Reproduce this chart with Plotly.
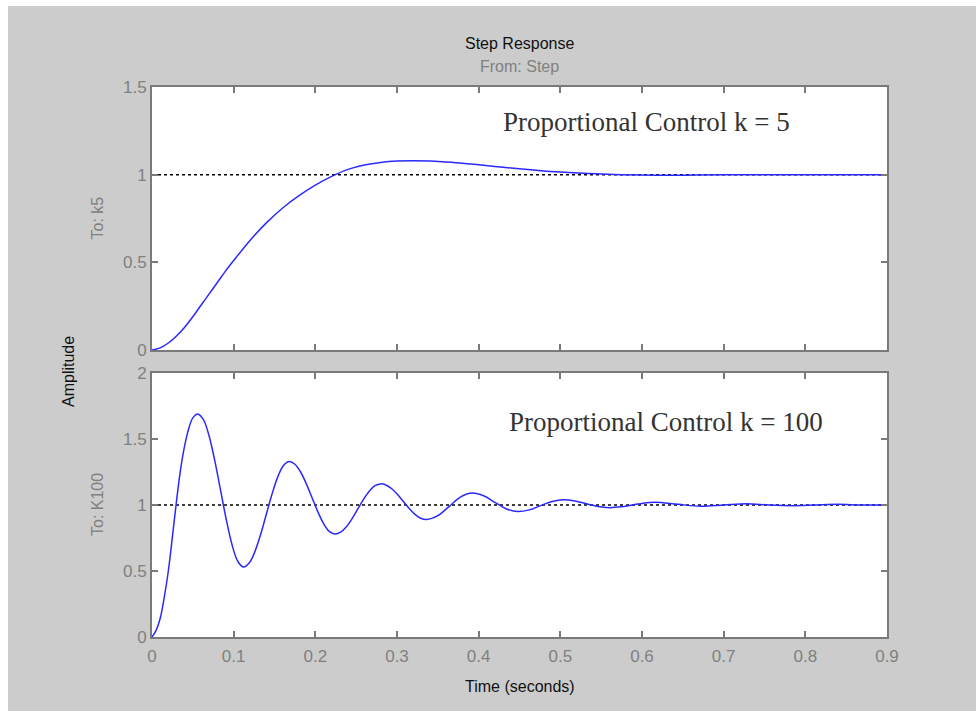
import plotly.graph_objects as go
from plotly.subplots import make_subplots

# ---- data ----
t_k5 = [0, 0.01, 0.02, 0.03, 0.04, 0.05, 0.06, 0.07, 0.08, 0.09, 0.10, 0.12, 0.14, 0.16,
        0.18, 0.20, 0.22, 0.24, 0.26, 0.28, 0.30, 0.32, 0.34, 0.36, 0.38, 0.40, 0.43,
        0.46, 0.50, 0.55, 0.60, 0.65, 0.70, 0.80, 0.90]
y_k5 = [0, 0.012, 0.04, 0.08, 0.13, 0.19, 0.255, 0.32, 0.385, 0.45, 0.51, 0.625, 0.725, 0.81,
        0.88, 0.94, 0.99, 1.03, 1.055, 1.07, 1.078, 1.08, 1.078, 1.072, 1.065, 1.056, 1.042,
        1.03, 1.015, 1.004, 0.998, 0.997, 1.0, 1.0, 1.0]

t_k100 = [0, 0.005, 0.01, 0.015, 0.02, 0.025, 0.03, 0.035, 0.04, 0.045, 0.05,
          0.056, 0.063, 0.070, 0.077, 0.084, 0.091, 0.098, 0.105, 0.112,
          0.119, 0.126, 0.133, 0.140, 0.147, 0.154, 0.161, 0.168,
          0.175, 0.182, 0.189, 0.196, 0.203, 0.210, 0.217, 0.224,
          0.231, 0.238, 0.245, 0.252, 0.259, 0.266, 0.273, 0.280,
          0.287, 0.294, 0.301, 0.308, 0.315, 0.322, 0.329, 0.336,
          0.350, 0.364, 0.378, 0.392,
          0.406, 0.420, 0.434, 0.448,
          0.462, 0.476, 0.490, 0.504,
          0.518, 0.532, 0.546, 0.560,
          0.574, 0.588, 0.602, 0.616,
          0.644, 0.672, 0.700, 0.728, 0.756, 0.784, 0.812, 0.840, 0.868, 0.900]
y_k100 = [0, 0.05, 0.14, 0.30, 0.50, 0.76, 1.03, 1.27, 1.45, 1.58, 1.66,
          1.69, 1.646, 1.521, 1.332, 1.11, 0.888, 0.699, 0.574, 0.53,
          0.56, 0.647, 0.777, 0.93, 1.083, 1.213, 1.30, 1.33,
          1.309, 1.25, 1.16, 1.055, 0.95, 0.86, 0.80, 0.78,
          0.794, 0.835, 0.897, 0.97, 1.043, 1.105, 1.146, 1.16,
          1.15, 1.121, 1.077, 1.025, 0.973, 0.929, 0.90, 0.89,
          0.919, 0.99, 1.061, 1.09,
          1.07, 1.02, 0.97, 0.95,
          0.963, 0.995, 1.027, 1.04,
          1.031, 1.01, 0.989, 0.98,
          0.986, 1.0, 1.014, 1.02,
          1.005, 0.99, 1.0, 1.01, 1.0, 0.995, 1.0, 1.005, 1.0, 1.0]

ref_t = [0, 0.9]
ref_y = [1, 1]

x_ticks = [0, 0.1, 0.2, 0.3, 0.4, 0.5, 0.6, 0.7, 0.8, 0.9]
x_labels = ["0", "0.1", "0.2", "0.3", "0.4", "0.5", "0.6", "0.7", "0.8", "0.9"]
y_ticks_top = [0, 0.5, 1, 1.5]
y_labels_top = ["0", "0.5", "1", "1.5"]
y_ticks_bot = [0, 0.5, 1, 1.5, 2]
y_labels_bot = ["0", "0.5", "1", "1.5", "2"]

# ---- figure ----
W, H = 976, 711
ML, MR, MT, MB = 152, 89, 87, 74
PW, PH = W - ML - MR, H - MT - MB
GRAY_BG = "#cccccc"
AX = "#7a7a7a"
TICKC = "#808080"
SANS = "Liberation Sans, Arial, sans-serif"
SERIF = "Liberation Serif, Times New Roman, serif"

fig = make_subplots(rows=2, cols=1, shared_xaxes=False, vertical_spacing=0.04)

blue = "#2a2aff"
fig.add_trace(go.Scatter(x=ref_t, y=ref_y, mode="lines",
                         line=dict(color="black", width=1.5, dash="3px,3px")), row=1, col=1)
fig.add_trace(go.Scatter(x=t_k5, y=y_k5, mode="lines", line_shape="spline",
                         line=dict(color=blue, width=1.5)), row=1, col=1)
fig.add_trace(go.Scatter(x=ref_t, y=ref_y, mode="lines",
                         line=dict(color="black", width=1.5, dash="3px,3px")), row=2, col=1)
fig.add_trace(go.Scatter(x=t_k100, y=y_k100, mode="lines", line_shape="spline",
                         line=dict(color=blue, width=1.5)), row=2, col=1)

top_dom = [(H - MB - 350) / PH, 1.0]
bot_dom = [0.0, (H - MB - 373) / PH]

axis_common = dict(showgrid=False, zeroline=False, showline=True, linecolor=AX, linewidth=2,
                   mirror="ticks", ticks="inside", ticklen=6, tickwidth=1.5, tickcolor=AX,
                   tickfont=dict(family=SANS, size=17, color=TICKC))

fig.update_xaxes(range=[0, 0.9], tickvals=x_ticks, ticktext=x_labels, **axis_common)
fig.update_xaxes(showticklabels=False, row=1, col=1)
fig.update_xaxes(ticklabelstandoff=3, row=2, col=1)
fig.update_yaxes(**axis_common)
fig.update_yaxes(range=[0, 1.5], tickvals=y_ticks_top, ticktext=y_labels_top,
                 domain=top_dom, row=1, col=1)
fig.update_yaxes(range=[0, 2], tickvals=y_ticks_bot, ticktext=y_labels_bot,
                 domain=bot_dom, row=2, col=1)

annotations = [
    dict(text="Step Response", xref="paper", yref="paper", x=0.5, y=1, yshift=44,
         yanchor="middle", showarrow=False, font=dict(family=SANS, size=16, color="#111111")),
    dict(text="From: Step", xref="paper", yref="paper", x=0.5, y=1, yshift=21,
         yanchor="middle", showarrow=False, font=dict(family=SANS, size=16, color=TICKC)),
    dict(text="Amplitude", xref="paper", yref="paper", x=0, xshift=-84, xanchor="center",
         yanchor="middle", y=(H - MB - 372) / PH, textangle=-90, showarrow=False,
         font=dict(family=SANS, size=16, color="#111111")),
    dict(text="Time (seconds)", xref="paper", yref="paper", x=0.5, y=0, yshift=-49,
         yanchor="middle", showarrow=False, font=dict(family=SANS, size=16, color="#111111")),
    dict(text="To: k5", xref="paper", yref="paper", x=0, xshift=-55, xanchor="center",
         yanchor="middle", y=(top_dom[0] + top_dom[1]) / 2, textangle=-90, showarrow=False,
         font=dict(family=SANS, size=16, color=TICKC)),
    dict(text="To: K100", xref="paper", yref="paper", x=0, xshift=-55, xanchor="center",
         yanchor="middle", y=(bot_dom[0] + bot_dom[1]) / 2, textangle=-90, showarrow=False,
         font=dict(family=SANS, size=16, color=TICKC)),
    dict(text="Proportional Control k = 5", xref="x", yref="y", x=0.606, y=1.30,
         showarrow=False, font=dict(family=SERIF, size=27, color="#333333")),
    dict(text="Proportional Control k = 100", xref="x2", yref="y2", x=0.629, y=1.63,
         showarrow=False, font=dict(family=SERIF, size=27, color="#333333")),
]

shapes = [
    # thin white frame strips around the gray figure (top and left)
    dict(type="rect", xref="paper", yref="paper", layer="below",
         x0=-ML / PW, x1=(W - ML) / PW, y0=1 + (MT - 6) / PH, y1=1 + MT / PH,
         fillcolor="white", line=dict(width=0)),
    dict(type="rect", xref="paper", yref="paper", layer="below",
         x0=-ML / PW, x1=(8 - ML) / PW, y0=-MB / PH, y1=1 + MT / PH,
         fillcolor="white", line=dict(width=0)),
]

fig.update_layout(width=W, height=H, margin=dict(l=ML, r=MR, t=MT, b=MB),
                  paper_bgcolor=GRAY_BG, plot_bgcolor="white", showlegend=False,
                  annotations=annotations, shapes=shapes,
                  font=dict(family=SANS))

fig.write_html("out.html")
